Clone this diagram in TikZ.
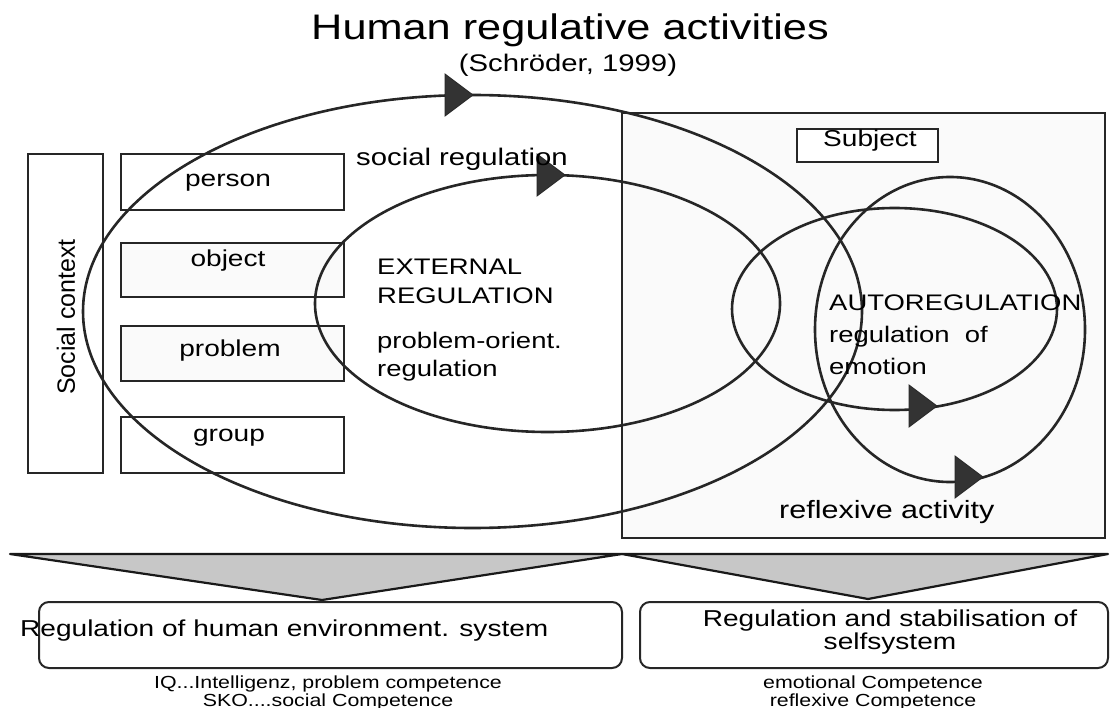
\documentclass[tikz,border=0pt]{standalone}
\usepackage{fontspec}
\setmainfont{Liberation Sans}[FakeStretch=1.22]
\newfontfamily\plainsf{Liberation Sans}
\usetikzlibrary{positioning}

\begin{document}
\begin{tikzpicture}[x=1pt,y=-1pt,
  loop/.style={draw=black!85, line width=2.6pt},
  tip/.style={fill=black!80, draw=black!85, line width=0.8pt},
  frame/.style={draw=black!85, line width=2pt, inner sep=0pt},
  item/.style={frame, minimum width=223pt, minimum height=56pt},
  outcome/.style={frame, rounded corners=10pt},
  wedge/.style={fill=black!22, draw=black!90, line width=2.2pt, line join=round},
  lbl/.style={font=\fontsize{23}{29}\selectfont, inner sep=0pt},
  note/.style={font=\fontsize{17.5}{16}\selectfont, align=center, inner sep=0pt}]
\useasboundingbox (0,0) rectangle (1110,708);

% title
\node[font=\fontsize{35.5}{40}\selectfont, anchor=base, inner sep=0pt] (title) at (570,40) {Human regulative activities};
\node[font=\fontsize{24}{28}\selectfont, anchor=base, inner sep=0pt] (cite) at (568,72) {(Schröder, 1999)};

% subject side
\node[frame, fill=black!2, minimum width=483pt, minimum height=425pt] (self) at (863.5,325.5) {};
\node[frame, fill=white, minimum width=141pt, minimum height=33pt] (subject) at (867.5,145.5) {};
\node[lbl, anchor=base] (subjectlbl) at (870,147) {Subject};

% social context and its objects
\node[frame, minimum width=75pt, minimum height=319pt] (context) at (65.5,313.5) {};
\node[font=\plainsf\fontsize{25}{30}\selectfont, rotate=90, inner sep=0pt] (contextlbl) at (66,317) {Social context};
\node[item] (person) at (232.5,182) {};
\node[item, fill=black!2, minimum height=54pt] (object) at (232.5,270) {};
\node[item, fill=black!2, minimum height=55pt] (problem) at (232.5,353.5) {};
\node[item] (group) at (232.5,445) {};
\node[lbl, anchor=base] (personlbl) at (228,187) {person};
\node[lbl, anchor=base] (objectlbl) at (228,267) {object};
\node[lbl, anchor=base] (problemlbl) at (230,356) {problem};
\node[lbl, anchor=base] (grouplbl) at (229,441) {group};

% regulation loops
\draw[loop] (472.5,311.5) ellipse [x radius=389.5, y radius=216.5];
\draw[loop] (547.5,303.5) ellipse [x radius=232.5, y radius=128.5];
\draw[loop] (894.5,309) ellipse [x radius=162.5, y radius=101];
\draw[loop] (950,329.5) ellipse [x radius=135, y radius=152.5];
\foreach \tx/\ty in {473/95, 565/175, 937/406, 983/477}
  \filldraw[tip] (\tx-28,\ty-21) -- (\tx,\ty) -- (\tx-28,\ty+21) -- cycle;

% loop labels (base = last line)
\node[lbl, font=\fontsize{24}{29}\selectfont, anchor=base west] (social) at (356,166) {social regulation};
\node[lbl, align=left, anchor=base west, font=\fontsize{22.5}{29}\selectfont] (external) at (377,304) {EXTERNAL\\REGULATION};
\node[lbl, align=left, anchor=base west, font=\fontsize{22.5}{28}\selectfont] (orient) at (377,376) {problem-orient.\\regulation};
\node[lbl, align=left, anchor=base west, font=\fontsize{22.5}{32}\selectfont] (auto) at (829,374) {AUTOREGULATION\\regulation\ \ of\\emotion};
\node[lbl, font=\fontsize{25}{29}\selectfont, anchor=base west] (reflexive) at (779,518) {reflexive activity};

% outcomes
\filldraw[wedge] (10,554) -- (622,554) -- (322,600) -- cycle;
\filldraw[wedge] (622,554) -- (1108,554) -- (868,599) -- cycle;
\draw[outcome] (39,602) rectangle (622,668);
\draw[outcome] (640,602) rectangle (1108,668);
\node[lbl, anchor=base west] (environment) at (20,636) {Regulation of human environment. system};
\node[lbl, align=center, anchor=base, font=\fontsize{23}{23}\selectfont] (selfsys) at (890,649) {Regulation and stabilisation of\\selfsystem};
\node[note, anchor=base] (envnote) at (328,706) {IQ...Intelligenz, problem competence\\SKO....social Competence};
\node[note, anchor=base] (selfnote) at (873,706) {emotional Competence\\reflexive Competence};
\end{tikzpicture}
\end{document}
